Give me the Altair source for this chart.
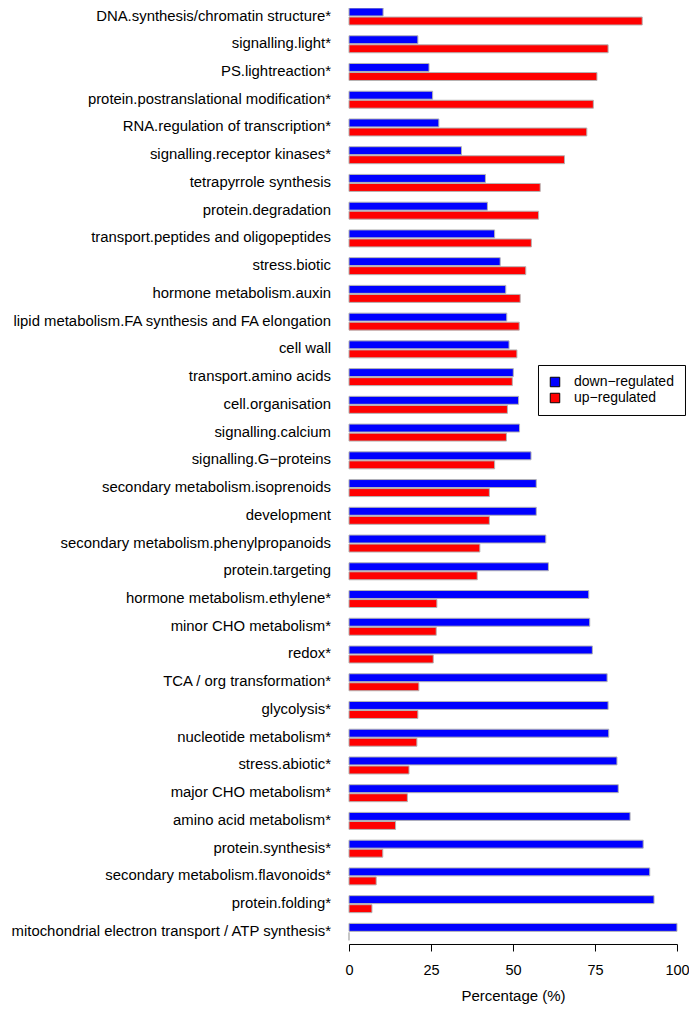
import altair as alt
import pandas as pd

categories = [
    "DNA.synthesis/chromatin structure*",
    "signalling.light*",
    "PS.lightreaction*",
    "protein.postranslational modification*",
    "RNA.regulation of transcription*",
    "signalling.receptor kinases*",
    "tetrapyrrole synthesis",
    "protein.degradation",
    "transport.peptides and oligopeptides",
    "stress.biotic",
    "hormone metabolism.auxin",
    "lipid metabolism.FA synthesis and FA elongation",
    "cell wall",
    "transport.amino acids",
    "cell.organisation",
    "signalling.calcium",
    "signalling.G\u2212proteins",
    "secondary metabolism.isoprenoids",
    "development",
    "secondary metabolism.phenylpropanoids",
    "protein.targeting",
    "hormone metabolism.ethylene*",
    "minor CHO metabolism*",
    "redox*",
    "TCA / org transformation*",
    "glycolysis*",
    "nucleotide metabolism*",
    "stress.abiotic*",
    "major CHO metabolism*",
    "amino acid metabolism*",
    "protein.synthesis*",
    "secondary metabolism.flavonoids*",
    "protein.folding*",
    "mitochondrial electron transport / ATP synthesis*",
]

down_regulated = [
    10.4, 21.0, 24.4, 25.5, 27.4, 34.3, 41.6, 42.2, 44.4, 46.1,
    47.8, 48.1, 48.8, 50.1, 51.7, 52.0, 55.5, 57.1, 57.1, 60.0,
    60.8, 73.1, 73.4, 74.2, 78.7, 79.0, 79.2, 81.7, 82.1, 85.7,
    89.7, 91.7, 93.0, 100.0,
]

up_regulated = [
    89.4, 79.0, 75.6, 74.5, 72.5, 65.7, 58.3, 57.8, 55.6, 53.9,
    52.2, 51.9, 51.2, 49.8, 48.3, 48.0, 44.4, 42.8, 42.8, 39.9,
    39.1, 26.8, 26.6, 25.7, 21.3, 21.0, 20.7, 18.3, 17.8, 14.2,
    10.3, 8.3, 7.0, 0.0,
]

series = ["down\u2212regulated", "up\u2212regulated"]
colors = ["#0000FF", "#FF0000"]
x_ticks = [0, 25, 50, 75, 100]

rows = []
for c, d, u in zip(categories, down_regulated, up_regulated):
    rows.append({"category": c, "series": series[0], "value": d})
    rows.append({"category": c, "series": series[1], "value": u})
df = pd.DataFrame(rows)

FONT = "Liberation Sans"

chart = alt.Chart(df).mark_bar(stroke="#b4b4b4", strokeWidth=1).encode(
    y=alt.Y(
        "category:N",
        sort=categories,
        scale=alt.Scale(paddingInner=0.387, paddingOuter=0),
        axis=alt.Axis(
            title=None, domain=False, ticks=False, labelPadding=18.5,
            labelFontSize=14.9, labelFont=FONT, labelColor="black",
            labelLimit=500,
        ),
    ),
    yOffset=alt.YOffset("series:N", sort=series, scale=alt.Scale(paddingInner=0.12)),
    x=alt.X(
        "value:Q",
        scale=alt.Scale(domain=[0, 100], nice=False, zero=True),
        axis=alt.Axis(
            values=x_ticks, title="Percentage (%)", grid=False,
            domainColor="black", tickColor="black", tickSize=7,
            labelFontSize=14.5, labelFont=FONT, labelColor="black",
            labelPadding=13, labelFlush=False, offset=3.6,
            titleFontSize=15.0, titleFont=FONT, titleFontWeight="normal",
            titleColor="black", titlePadding=11.5,
        ),
    ),
    color=alt.Color(
        "series:N",
        scale=alt.Scale(domain=series, range=colors),
        legend=alt.Legend(
            title=None, orient="none", legendX=189, legendY=357,
            fillColor="white", strokeColor="black", padding=10,
            cornerRadius=0, symbolType="square", symbolSize=90,
            symbolStrokeColor="black", symbolStrokeWidth=1,
            symbolOpacity=1, labelFontSize=14, labelFont=FONT,
            labelColor="black", labelOffset=12, rowPadding=2,
        ),
    ),
).properties(
    width=328,
    height=932.4,
    padding={"left": 341, "top": 0, "right": 12, "bottom": 67},
    autosize=alt.AutoSizeParams(type="none"),
).configure_view(stroke=None)

chart.save("out.html", embed_options={"renderer": "svg", "actions": False})
